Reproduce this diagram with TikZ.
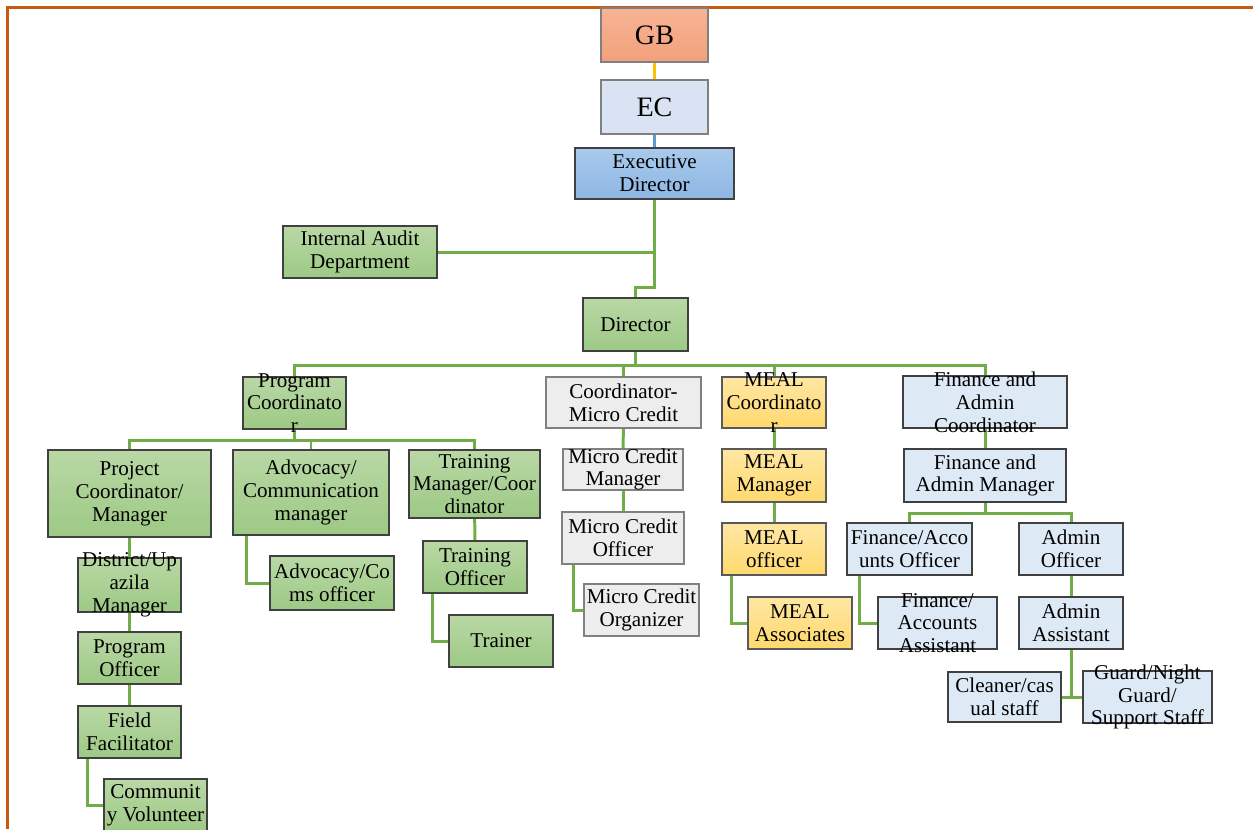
\documentclass[tikz,border=0pt]{standalone}
\usepackage{fontspec}
\setmainfont{Liberation Serif}
\usetikzlibrary{fit,backgrounds}

\definecolor{frameorange}{RGB}{197,90,17}
\definecolor{linegreen}{RGB}{112,173,71}
\definecolor{lineyellow}{RGB}{255,192,0}
\definecolor{lineblue}{RGB}{91,155,213}
\definecolor{gbtop}{RGB}{247,180,150}
\definecolor{gbbot}{RGB}{242,160,122}
\definecolor{ecfill}{RGB}{218,227,243}
\definecolor{edtop}{RGB}{168,202,235}
\definecolor{edbot}{RGB}{142,182,228}
\definecolor{greentop}{RGB}{185,216,165}
\definecolor{greenbot}{RGB}{157,201,133}
\definecolor{boxgray}{RGB}{237,237,237}
\definecolor{yellowtop}{RGB}{255,231,163}
\definecolor{yellowbot}{RGB}{255,217,110}
\definecolor{boxblue}{RGB}{222,233,246}

\tikzset{
  box/.style={draw=black!75, line width=0.8pt, inner sep=0pt},
  greenbox/.style={box, top color=greentop, bottom color=greenbot},
  graybox/.style={box, draw=black!50, fill=boxgray},
  yellowbox/.style={box, draw=black!65, top color=yellowtop, bottom color=yellowbot},
  bluebox/.style={box, fill=boxblue},
  txt/.style={align=center, inner sep=0pt, font=\fontsize{12}{13}\selectfont},
  bigtxt/.style={txt, font=\fontsize{16}{18}\selectfont},
  link/.style={linegreen, line width=1.7pt},
}

\begin{document}
\begin{tikzpicture}[x=0.02cm, y=-0.02cm]
	\useasboundingbox (0,0) rectangle (1253,829);
	\draw[frameorange, line width=0.06cm] (7.5,829) -- (7.5,7.5) -- (1253,7.5);

	\node[box, draw=black!50, top color=gbtop, bottom color=gbbot, fit={(601,8) (708,62)}] (gb) {};
	\node[bigtxt] at (gb) {GB};
	\node[box, draw=black!50, fill=ecfill, fit={(601,80) (708,134)}] (ec) {};
	\node[bigtxt] at (ec) {EC};
	\node[box, top color=edtop, bottom color=edbot, fit={(575,148) (734,199)}] (ed) {};
	\node[txt] at (ed) {Executive\\Director};
	\node[greenbox, fit={(283,226) (437,278)}] (audit) {};
	\node[txt] at (audit) {Internal Audit\\Department};
	\node[greenbox, fit={(583,298) (688,351)}] (director) {};
	\node[txt] at (director) {Director};

	\node[greenbox, fit={(243,377) (346,429)}] (progcoord) {};
	\node[txt] at (progcoord) {Program\\Coordinato\\r};
	\node[greenbox, fit={(48,450) (211,537)}] (projcoord) {};
	\node[txt] at (projcoord) {Project\\Coordinator/\\Manager};
	\node[greenbox, fit={(233,450) (389,535)}] (advcomm) {};
	\node[txt] at (advcomm) {Advocacy/\\Communication\\manager};
	\node[greenbox, fit={(409,450) (540,518)}] (trainmgr) {};
	\node[txt] at (trainmgr) {Training\\Manager/Coor\\dinator};
	\node[greenbox, fit={(78,558) (181,612)}] (district) {};
	\node[txt] at (district) {District/Up\\azila\\Manager};
	\node[greenbox, fit={(78,632) (181,684)}] (progofficer) {};
	\node[txt] at (progofficer) {Program\\Officer};
	\node[greenbox, fit={(78,706) (181,758)}] (field) {};
	\node[txt] at (field) {Field\\Facilitator};
	\node[greenbox, fit={(104,779) (207,832)}] (comvol) {};
	\node[txt] at (comvol) {Communit\\y Volunteer};
	\node[greenbox, fit={(270,556) (394,610)}] (advofficer) {};
	\node[txt] at (advofficer) {Advocacy/Co\\ms officer};
	\node[greenbox, fit={(423,541) (527,593)}] (trainofficer) {};
	\node[txt] at (trainofficer) {Training\\Officer};
	\node[greenbox, fit={(449,615) (553,667)}] (trainer) {};
	\node[txt] at (trainer) {Trainer};

	\node[graybox, fit={(546,377) (701,428)}] (mccoord) {};
	\node[txt] at (mccoord) {Coordinator-\\Micro Credit};
	\node[graybox, fit={(563,449) (683,490)}] (mcmgr) {};
	\node[txt] at (mcmgr) {Micro Credit\\Manager};
	\node[graybox, fit={(562,512) (684,564)}] (mcofficer) {};
	\node[txt] at (mcofficer) {Micro Credit\\Officer};
	\node[graybox, fit={(584,584) (699,636)}] (mcorg) {};
	\node[txt] at (mcorg) {Micro Credit\\Organizer};

	\node[yellowbox, fit={(722,377) (826,428)}] (mealcoord) {};
	\node[txt] at (mealcoord) {MEAL\\Coordinato\\r};
	\node[yellowbox, fit={(722,449) (826,502)}] (mealmgr) {};
	\node[txt] at (mealmgr) {MEAL\\Manager};
	\node[yellowbox, fit={(722,523) (826,575)}] (mealofficer) {};
	\node[txt] at (mealofficer) {MEAL\\officer};
	\node[yellowbox, fit={(748,597) (852,649)}] (mealassoc) {};
	\node[txt] at (mealassoc) {MEAL\\Associates};

	\node[bluebox, fit={(903,376) (1067,428)}] (facoord) {};
	\node[txt] at (facoord) {Finance and\\Admin\\Coordinator};
	\node[bluebox, fit={(904,449) (1066,502)}] (famgr) {};
	\node[txt] at (famgr) {Finance and\\Admin Manager};
	\node[bluebox, fit={(847,523) (972,575)}] (faofficer) {};
	\node[txt] at (faofficer) {Finance/Acco\\unts Officer};
	\node[bluebox, fit={(1019,523) (1123,575)}] (adminofficer) {};
	\node[txt] at (adminofficer) {Admin\\Officer};
	\node[bluebox, fit={(878,597) (997,649)}] (faassist) {};
	\node[txt] at (faassist) {Finance/\\Accounts\\Assistant};
	\node[bluebox, fit={(1019,597) (1123,649)}] (adminassist) {};
	\node[txt] at (adminassist) {Admin\\Assistant};
	\node[bluebox, fit={(948,672) (1061,722)}] (cleaner) {};
	\node[txt] at (cleaner) {Cleaner/cas\\ual staff};
	\node[bluebox, fit={(1083,671) (1212,723)}] (guard) {};
	\node[txt] at (guard) {Guard/Night\\Guard/\\Support Staff};

	\begin{scope}[on background layer]
	\draw[lineyellow, line width=1.5pt] (gb.south) -- (ec.north);
	\draw[lineblue, line width=1.5pt] (ec.south) -- (ed.north);
	\draw[link] (ed.south) -- ++(0,88) -| (director.north);
	\draw[link] (audit.east) -- (audit.east -| ed.south);
	\draw[link] (director.south) -- ++(0,14) coordinate (dbus);
	\foreach \n in {progcoord, mccoord, mealcoord, facoord}
		\draw[link] (dbus) -| (\n.north);
	\draw[link] (progcoord.south) -- ++(0,11) coordinate (pbus);
	\foreach \n in {projcoord, advcomm, trainmgr}
		\draw[link] (pbus) -| (\n.north);
	\draw[link] (projcoord) -- (district);
	\draw[link] (district) -- (progofficer);
	\draw[link] (progofficer) -- (field);
	\draw[link] ([xshift=0.2cm]field.south west) |- (comvol.west);
	\draw[link] ([xshift=0.28cm]advcomm.south west) |- (advofficer.west);
	\draw[link] (trainmgr) -- (trainofficer);
	\draw[link] ([xshift=0.2cm]trainofficer.south west) |- (trainer.west);
	\draw[link] (mccoord) -- (mcmgr);
	\draw[link] (mcmgr) -- (mcofficer);
	\draw[link] ([xshift=0.24cm]mcofficer.south west) |- (mcorg.west);
	\draw[link] (mealcoord) -- (mealmgr);
	\draw[link] (mealmgr) -- (mealofficer);
	\draw[link] ([xshift=0.2cm]mealofficer.south west) |- (mealassoc.west);
	\draw[link] (facoord) -- (famgr);
	\draw[link] (famgr.south) -- ++(0,11) coordinate (fbus);
	\foreach \n in {faofficer, adminofficer}
		\draw[link] (fbus) -| (\n.north);
	\draw[link] ([xshift=0.26cm]faofficer.south west) |- (faassist.west);
	\draw[link] (adminofficer) -- (adminassist);
	\draw[link] (adminassist.south) -- (adminassist.south |- guard.west);
	\draw[link] (cleaner.east) -- (guard.west);
	\end{scope}
\end{tikzpicture}
\end{document}
